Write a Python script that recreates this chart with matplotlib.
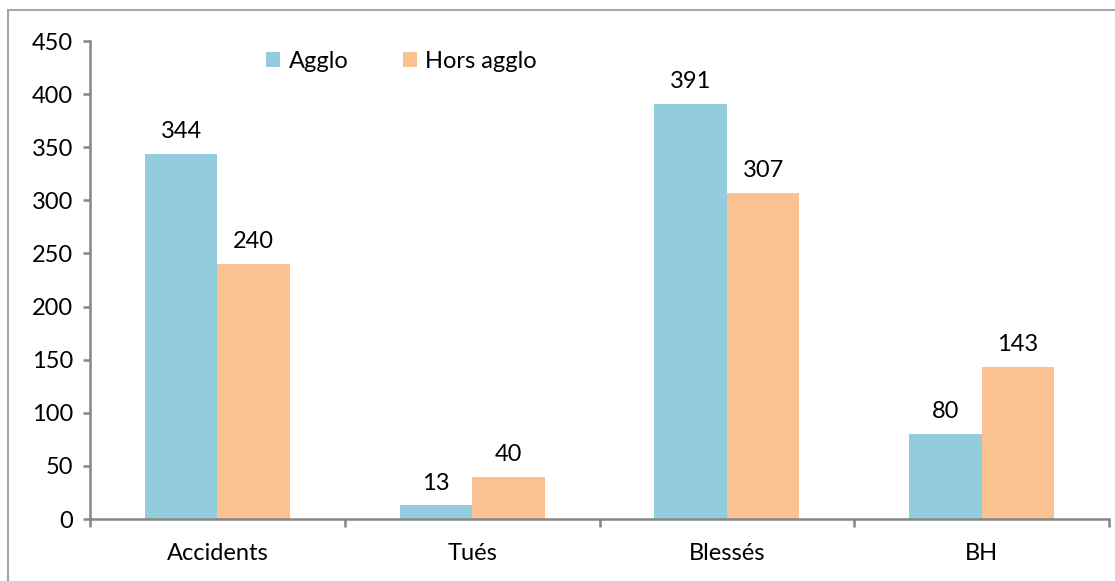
import numpy as np
import matplotlib.pyplot as plt
from matplotlib.patches import Rectangle

categories = ['Accidents', 'Tués', 'Blessés', 'BH']
agglo = [344, 13, 391, 80]
hors_agglo = [240, 40, 307, 143]
series_names = ['Agglo', 'Hors agglo']

plt.rcParams['font.family'] = ['Lato', 'DejaVu Sans']
fs = 17

fig = plt.figure(figsize=(11.15, 5.81), dpi=100)
ax = fig.add_axes([90 / 1115, 1 - 519 / 581, 1019 / 1115, 478 / 581])

# outer chart border (cropped on right/bottom)
fig.patches.append(Rectangle((8 / 1115, -0.1), 1.2, 1.1 - 10 / 581,
                             transform=fig.transFigure, fill=False,
                             edgecolor='#a6a6a6', lw=1.5))

x = np.arange(len(categories))
w = 0.285
b1 = ax.bar(x - w / 2, agglo, w, color='#93CDDD', label=series_names[0])
b2 = ax.bar(x + w / 2, hors_agglo, w, color='#FAC191', label=series_names[1])

for bars in (b1, b2):
    for r in bars:
        ax.text(r.get_x() + r.get_width() / 2, r.get_height() + 11,
                str(int(r.get_height())), ha='center', va='bottom', fontsize=fs)

ax.set_xlim(-0.5, len(categories) - 0.5)
ax.set_ylim(0, 450)
ax.set_yticks(np.arange(0, 451, 50))
ax.set_xticks(x)
ax.set_xticklabels(categories)
ax.set_xticks(np.arange(-0.5, len(categories), 1), minor=True)

for s in ['top', 'right']:
    ax.spines[s].set_visible(False)
for s in ['left', 'bottom']:
    ax.spines[s].set_color('#868686')
    ax.spines[s].set_linewidth(1.8)

ax.tick_params(axis='y', length=5, width=1.8, color='#868686', labelsize=fs, pad=7)
ax.tick_params(axis='x', which='major', length=0, labelsize=fs, pad=17)
ax.tick_params(axis='x', which='minor', length=6, width=1.8, color='#868686')

ax.legend(loc='center left', bbox_to_anchor=(245 / 1115, 1 - 61 / 581),
          bbox_transform=fig.transFigure, ncol=2, frameon=False, fontsize=fs,
          handlelength=0.6, handleheight=0.6, handletextpad=0.35,
          columnspacing=2.3)

fig.savefig('out.png', dpi=100)
